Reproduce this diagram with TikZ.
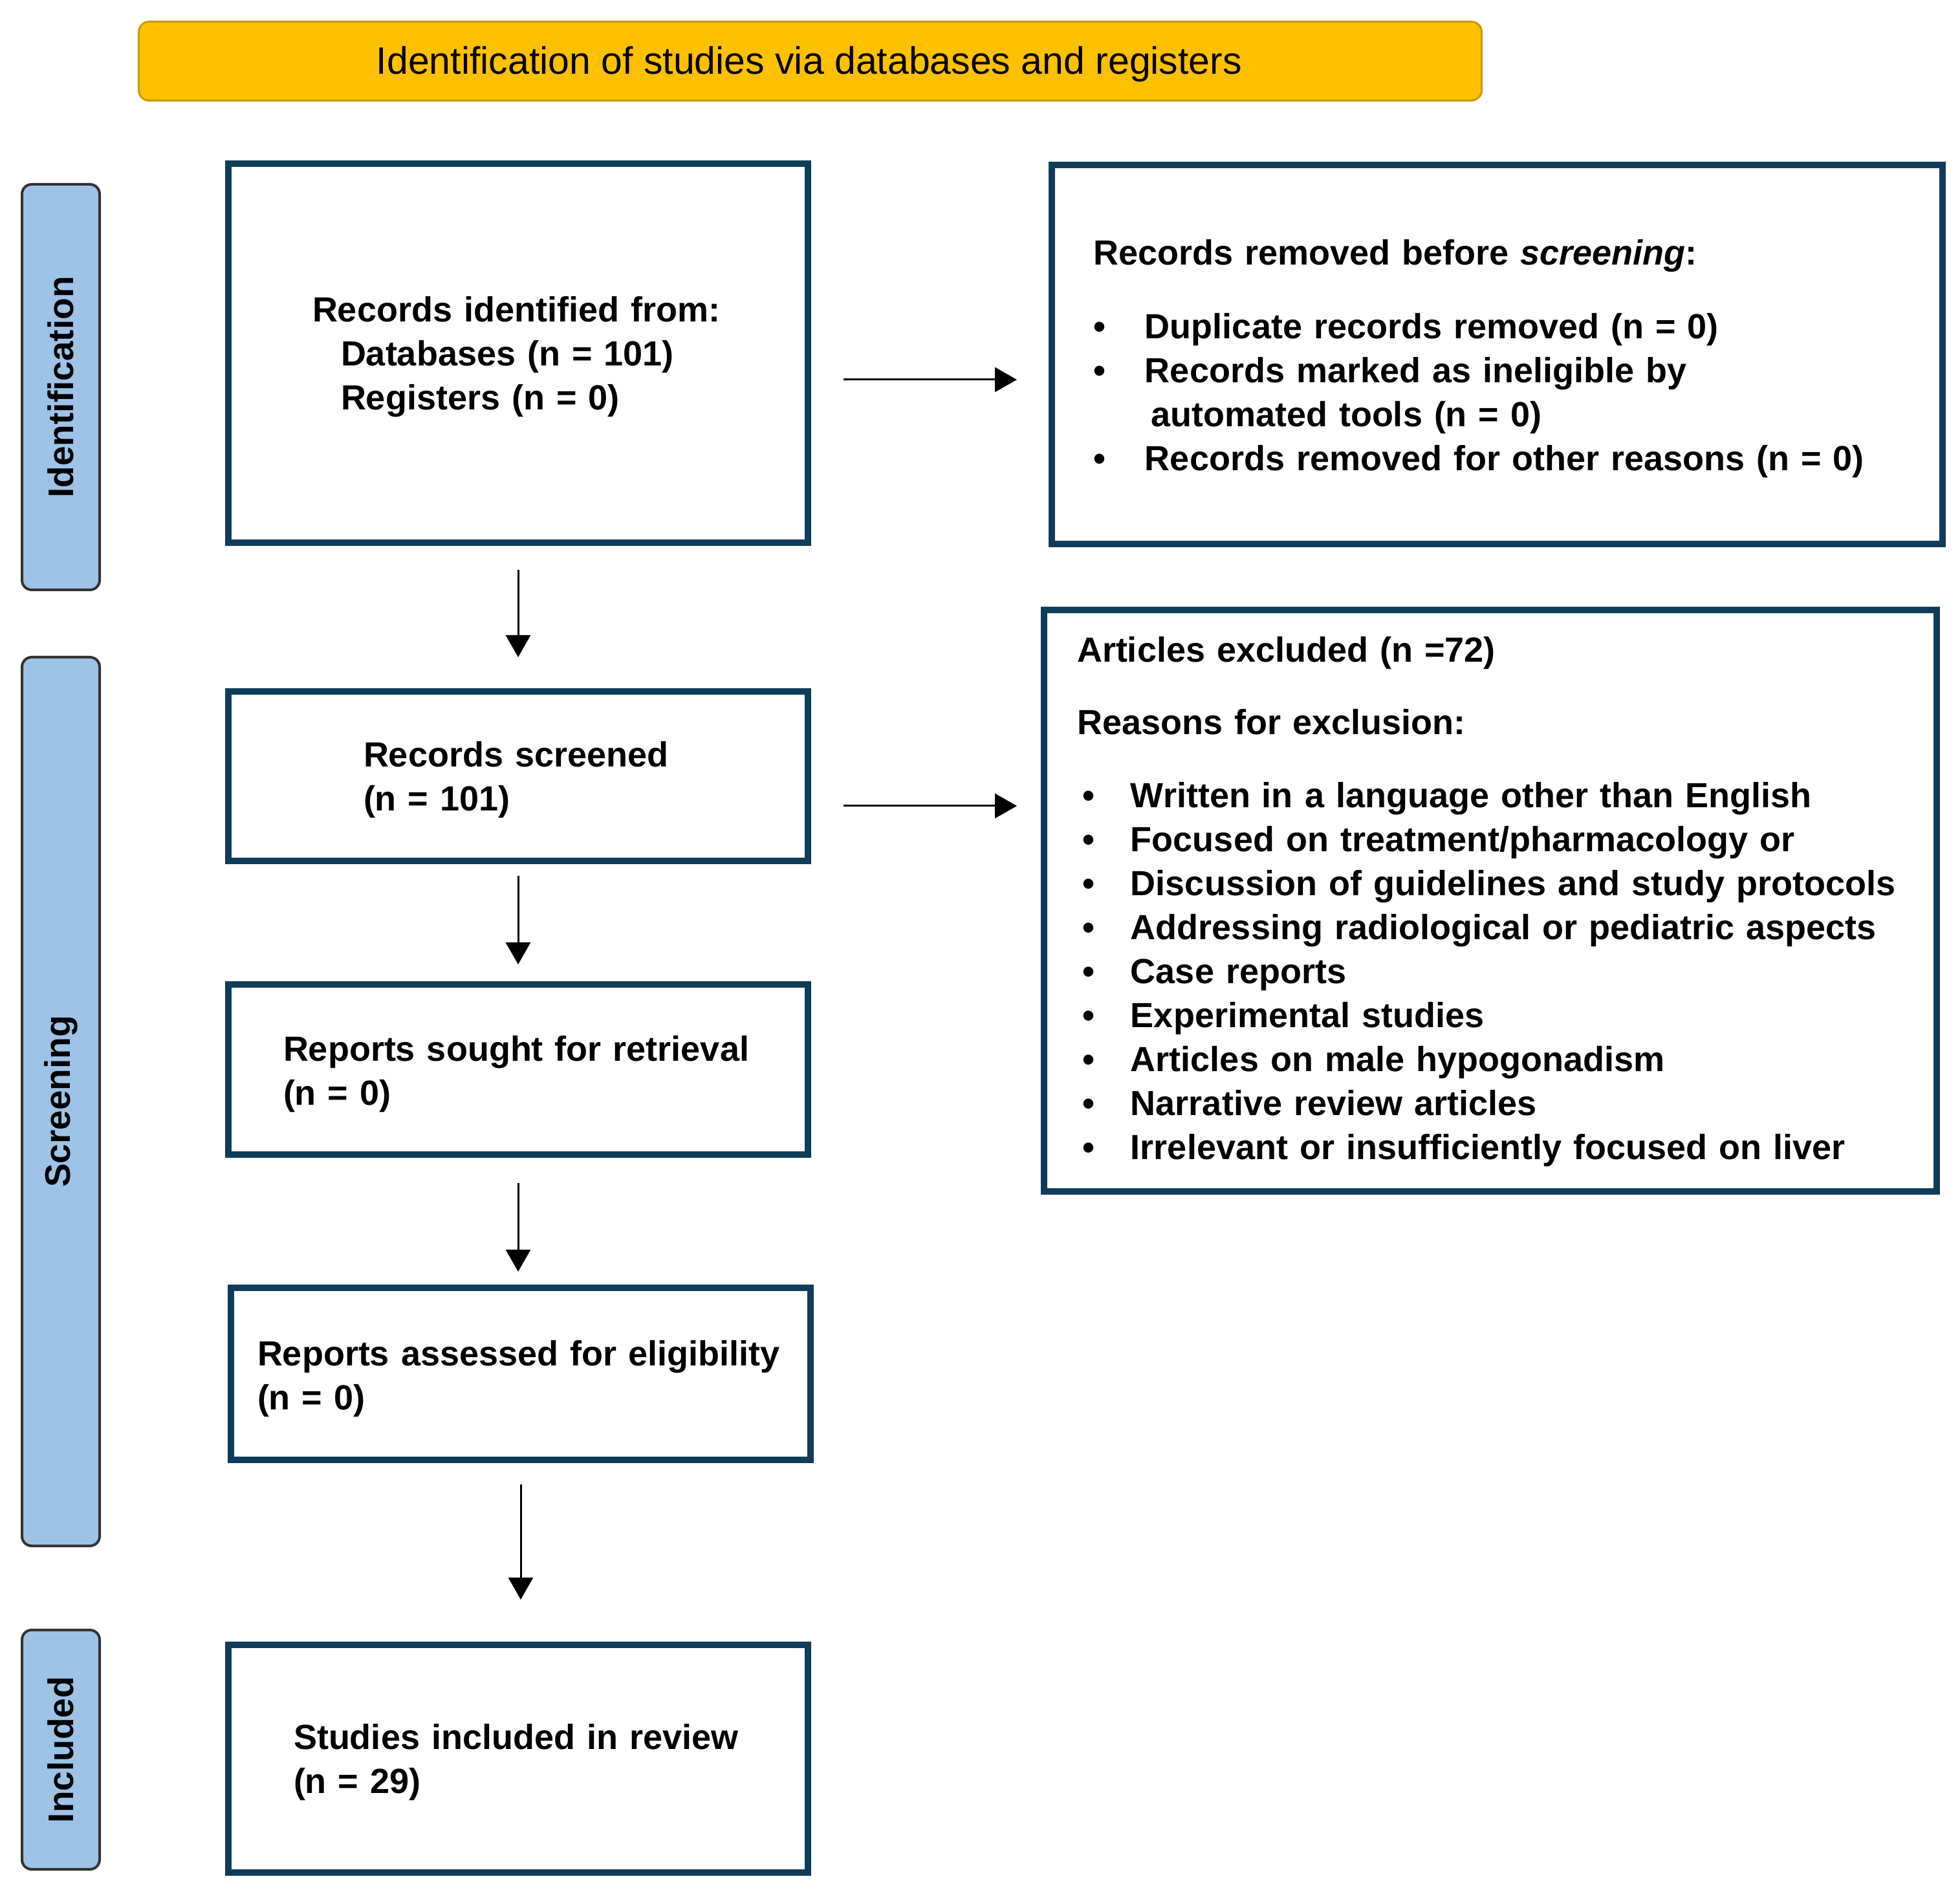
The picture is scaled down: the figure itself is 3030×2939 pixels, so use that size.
\documentclass[tikz,border=0pt]{standalone}
\usepackage{fontspec}
\setmainfont{Liberation Sans}
\usetikzlibrary{arrows.meta}
\definecolor{boxc}{HTML}{0E3D5B}
\definecolor{lblfill}{HTML}{9DC3E6}
\definecolor{ttlfill}{HTML}{FFC000}
\definecolor{ttldraw}{HTML}{C99A00}
\newcommand\pbfont{\fontsize{13.5pt}{17pt}\selectfont\bfseries}
\newcommand\lbfont{\fontsize{13.75pt}{17pt}\selectfont\bfseries}
\newcommand\bulA{\makebox[20pt][l]{•}}
\newcommand\bulB{\hspace*{2pt}\makebox[18.75pt][l]{•}}
\tikzset{
  pbox/.style={rectangle, draw=boxc, line width=2.5pt, inner sep=0pt, outer sep=0pt, fill=white},
  lbl/.style={rectangle, draw=black!80, fill=lblfill, line width=1pt, rounded corners=3.75pt, inner sep=0pt, outer sep=0pt, minimum width=30pt},
  ttl/.style={rectangle, draw=ttldraw, fill=ttlfill, line width=0.75pt, rounded corners=4pt, inner sep=0pt, outer sep=0pt},
  txt/.style={anchor=base west, inner sep=0pt, outer sep=0pt, align=left, text width=400pt, font=\pbfont},
  lbltxt/.style={rotate=90, inner sep=0pt, font=\lbfont},
  arr/.style={-{Triangle[length=8.5pt,width=9.5pt]}, line width=0.75pt, black}
}
\begin{document}
\begin{tikzpicture}[x=0.25pt,y=-0.25pt]
\useasboundingbox (0,0) rectangle (3030,2939);

% title banner
\node[ttl, minimum width=519pt, minimum height=30.5pt] (banner) at (1252.5,94.5) {};
\node[anchor=base, inner sep=0pt, font=\fontsize{14.75pt}{17pt}\selectfont] (bannertxt) at (1251,115) {Identification of studies via databases and registers};

% side labels
\node[lbl, minimum height=156.75pt] (lid) at (94,598.5) {};
\node[lbltxt] (lidt) at (lid.center) {Identification};
\node[lbl, minimum height=343.5pt] (lsc) at (94,1703) {};
\node[lbltxt] (lsct) at (lsc.center) {Screening};
\node[lbl, minimum height=92.5pt] (lin) at (94,2705) {};
\node[lbltxt] (lint) at (lin.center) {Included};

% boxes
\node[pbox, minimum width=224pt, minimum height=146.5pt] (b1) at (801,546) {};
\node[pbox, minimum width=344.25pt, minimum height=146.5pt] (b2) at (2314.5,548) {};
\node[pbox, minimum width=224pt, minimum height=65.5pt] (b3) at (801,1200) {};
\node[pbox, minimum width=345pt, minimum height=224.75pt] (b4) at (2304,1392.5) {};
\node[pbox, minimum width=224pt, minimum height=65.75pt] (b5) at (801,1653.5) {};
\node[pbox, minimum width=224pt, minimum height=66.5pt] (b6) at (805,2124) {};
\node[pbox, minimum width=224pt, minimum height=88pt] (b7) at (801,2719) {};

% texts
\node[txt] (t1) at (483,498) {Records identified from:\\
\hspace*{11pt}Databases (n = 101)\\
\hspace*{11pt}Registers (n = 0)};
\node[txt] (t2) at (1690,410) {Records removed before \textit{screening}:\\[11.5pt]
\bulA Duplicate records removed (n = 0)\\
\bulA Records marked as ineligible by\\
\hspace*{22.25pt}automated tools (n = 0)\\
\bulA Records removed for other reasons (n = 0)};
\node[txt] (t3) at (562,1186) {Records screened\\(n = 101)};
\node[txt] (t4) at (1665,1024) {Articles excluded (n =72)\\[11pt]
Reasons for exclusion:\\[11.25pt]
\bulB Written in a language other than English\\
\bulB Focused on treatment/pharmacology or\\
\bulB Discussion of guidelines and study protocols\\
\bulB Addressing radiological or pediatric aspects\\
\bulB Case reports\\
\bulB Experimental studies\\
\bulB Articles on male hypogonadism\\
\bulB Narrative review articles\\
\bulB Irrelevant or insufficiently focused on liver};
\node[txt] (t5) at (438,1640) {Reports sought for retrieval\\(n = 0)};
\node[txt] (t6) at (398,2111) {Reports assessed for eligibility\\(n = 0)};
\node[txt] (t7) at (454,2704) {Studies included in review\\(n = 29)};

% connectors
\draw[arr, shorten <=10.5pt, shorten >=13.25pt] (b1.south) -- (b3.north);
\draw[arr, shorten <=5.75pt, shorten >=7.75pt] (b3.south) -- (b5.north);
\draw[arr, shorten <=11pt, shorten >=6.25pt] (b5.south) -- (b5.south |- b6.north);
\draw[arr, shorten <=9.5pt, shorten >=17.5pt] (b6.south) -- (b6.south |- b7.north);
\draw[arr, shorten <=13.75pt, shorten >=13.5pt] ([yshift=-10.25pt]b1.east) -- ([yshift=-10.25pt]b1.east -| b2.west);
\draw[arr, shorten <=13.75pt, shorten >=10.5pt] ([yshift=-11.5pt]b3.east) -- ([yshift=-11.5pt]b3.east -| b4.west);
\end{tikzpicture}
\end{document}
